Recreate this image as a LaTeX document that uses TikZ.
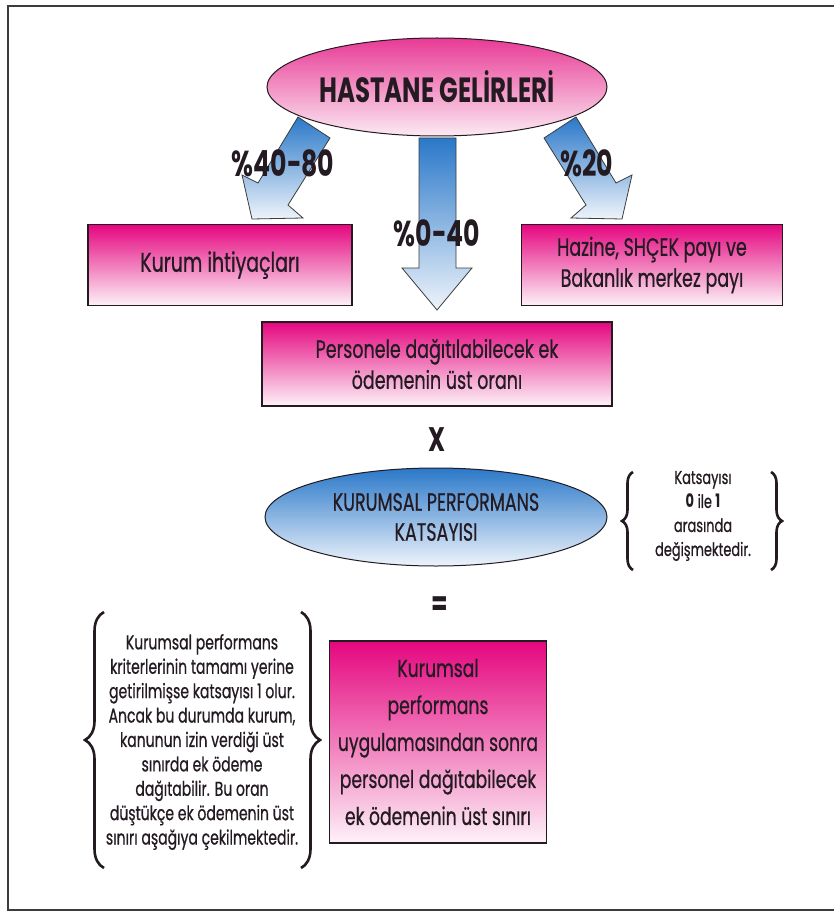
\documentclass[tikz,border=0pt]{standalone}
\usepackage{fontspec}
\setmainfont{Poppins}[FakeStretch=0.7, UprightFeatures={FakeBold=0.6}]
\usetikzlibrary{shapes.geometric,decorations.pathreplacing}

\definecolor{ink}{HTML}{231A22}
\definecolor{framegray}{HTML}{3C3C3C}
\definecolor{pinktop}{HTML}{E5067F}
\definecolor{pinkbot}{HTML}{FDF2F8}
\definecolor{rosetop}{HTML}{E83A95}
\definecolor{rosebot}{HTML}{FCEAF3}
\definecolor{bluetop}{HTML}{2A78C9}
\definecolor{bluebot}{HTML}{EEF4FB}

\tikzset{
  pinkbox/.style={rectangle, draw=ink, line width=1.2pt, top color=pinktop,
    bottom color=pinkbot, text=ink, align=center, inner sep=0pt,
    font=\fontsize{25}{31}\selectfont},
  blockarrow/.style={draw=framegray, line width=0.8pt, top color=bluetop,
    bottom color=bluebot},
  pct/.style={text=ink, font=\bfseries\fontsize{36}{36}\selectfont, inner sep=0pt},
  opsign/.style={text=ink, font=\bfseries\fontsize{34}{34}\selectfont, inner sep=0pt},
  bracepath/.style={decorate, line width=2.6pt, draw=ink},
  note/.style={text=ink, align=center, inner sep=0pt}
}

\begin{document}
\begin{tikzpicture}[x=1pt, y=-1pt]
  \useasboundingbox (0,0) rectangle (834,912);
  \fill[white] (0,0) rectangle (834,912);

  % page frame (open on the right)
  \draw[framegray, line width=2pt] (834,6) -- (8,6) -- (8,910) -- (834,910);

  % block arrows leaving the revenue ellipse
  \path[blockarrow] (298,117) -- (330,138) -- (288,205) -- (303,218)
    -- (252,219) -- (242,175) -- (258,183) -- cycle;
  \path[blockarrow] (576,117) -- (544,138) -- (586,205) -- (571,218)
    -- (622,219) -- (632,175) -- (616,183) -- cycle;
  \path[blockarrow] (419,138) -- (456,138) -- (456,268) -- (472,268)
    -- (437,310) -- (402,268) -- (419,268) -- cycle;

  % revenue ellipse
  \node[ellipse, draw=ink, line width=1pt, top color=rosetop, bottom color=rosebot,
        minimum width=340pt, minimum height=98pt, inner sep=0pt, text=ink,
        font=\bfseries\fontsize{35}{35}\selectfont] (gelir) at (437,87) {HASTANE GELİRLERİ};

  % shares
  \node[pct] (p1) at (283,163) {\%40-80};
  \node[pct] (p2) at (587,163) {\%20};
  \node[pct] (p3) at (437,233) {\%0-40};

  \node[pinkbox, minimum width=264pt, minimum height=81pt,
        font=\fontsize{27}{31}\selectfont] (kurum) at (220,265) {Kurum ihtiyaçları};
  \node[pinkbox, minimum width=261pt, minimum height=81pt] (hazine) at (652,265)
    {Hazine, SHÇEK payı ve\\Bakanlık merkez payı};
  \node[pinkbox, minimum width=350pt, minimum height=84pt] (personel) at (437,364)
    {Personele dağıtılabilecek ek\\ödemenin üst oranı};

  \node[opsign] (carp) at (437,440) {X};

  \node[ellipse, draw=ink, line width=1pt, top color=bluetop, bottom color=bluebot,
        minimum width=342pt, minimum height=98pt, inner sep=0pt, text=ink, align=center,
        font=\fontsize{25}{30}\selectfont] (katsayi) at (436,517)
    {KURUMSAL PERFORMANS\\KATSAYISI};

  % coefficient range note
  \node[note, font=\fontsize{18.5}{24}\selectfont] (aralik) at (703,516)
    {Katsayısı\\\textbf{0} ile \textbf{1}\\arasında\\değişmektedir.};
  \draw[bracepath, decoration={brace, amplitude=11pt}] (633,570) -- (633,472);
  \draw[bracepath, decoration={brace, amplitude=11pt}] (771,472) -- (771,570);

  \node[opsign] (esit) at (440,606) {=};

  % explanation of the coefficient
  \node[note, font=\fontsize{20}{24.4}\selectfont] (aciklama) at (202,742)
    {Kurumsal performans\\kriterlerinin tamamı yerine\\getirilmişse katsayısı 1 olur.\\
     Ancak bu durumda kurum,\\kanunun izin verdiği üst\\sınırda ek ödeme\\
     dağıtabilir. Bu oran\\düştükçe ek ödemenin üst\\sınırı aşağıya çekilmektedir.};
  \draw[bracepath, decoration={brace, amplitude=19pt}] (104,868) -- (104,612);
  \draw[bracepath, decoration={brace, amplitude=19pt}] (301,612) -- (301,868);

  \node[pinkbox, minimum width=217pt, minimum height=202pt,
        font=\fontsize{24.5}{37}\selectfont] (sonuc) at (438,742)
    {Kurumsal\\performans\\uygulamasından sonra\\personel dağıtabilecek\\ek ödemenin üst sınırı};
\end{tikzpicture}
\end{document}
